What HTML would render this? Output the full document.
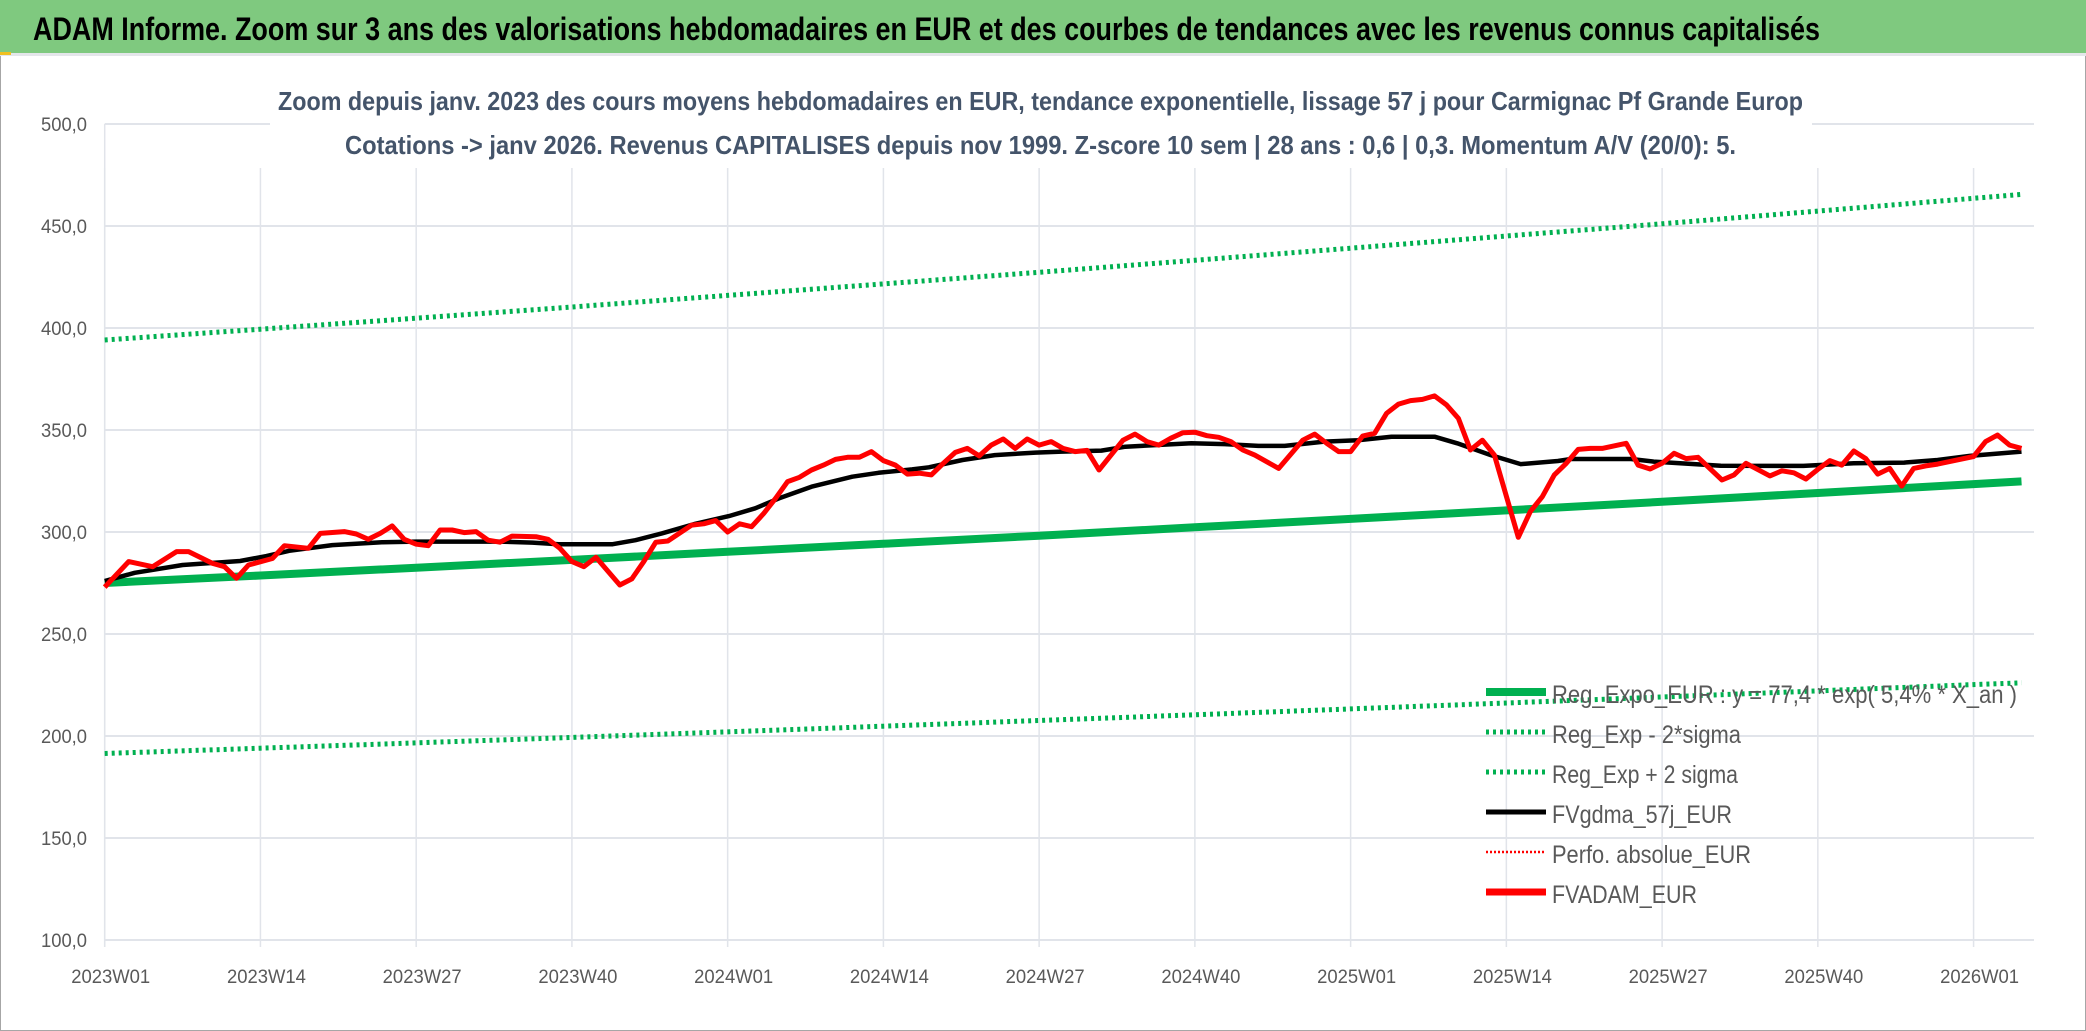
<!DOCTYPE html>
<html><head><meta charset="utf-8"><style>
html,body{margin:0;padding:0;background:#fff;}
svg{display:block;}
</style></head><body>
<svg id="chart" width="2086" height="1031" viewBox="0 0 2086 1031" xmlns="http://www.w3.org/2000/svg">
<rect x="0" y="0" width="2086" height="1031" fill="#fff"/>
<rect x="0.5" y="0.5" width="2085" height="1030" fill="none" stroke="#a6a6a6"/>
<rect x="0" y="0" width="2086" height="53" fill="#7fc97f"/>
<rect x="0" y="53" width="2086" height="3" fill="#e4e6ea"/>
<rect x="0" y="52" width="11" height="3" fill="#f0c020"/>
<text x="33" y="40" font-family="'Liberation Sans Narrow','Liberation Sans',sans-serif" font-weight="bold" font-size="32" fill="#000" textLength="1787" lengthAdjust="spacingAndGlyphs">ADAM Informe. Zoom sur 3 ans des valorisations hebdomadaires en EUR et des courbes de tendances avec les revenus connus capitalisés</text>
<g id="grid"></g>
<rect x="270" y="57" width="1542" height="111" fill="#fff"/>
<text x="278" y="110" font-family="'Liberation Sans Narrow','Liberation Sans',sans-serif" font-weight="bold" font-size="26" fill="#44546a" textLength="1525" lengthAdjust="spacingAndGlyphs">Zoom depuis janv. 2023 des cours moyens hebdomadaires en EUR, tendance exponentielle, lissage 57 j pour Carmignac Pf Grande Europ</text>
<text x="345" y="154" font-family="'Liberation Sans Narrow','Liberation Sans',sans-serif" font-weight="bold" font-size="26" fill="#44546a" textLength="1391" lengthAdjust="spacingAndGlyphs">Cotations -&gt; janv 2026. Revenus CAPITALISES depuis nov 1999. Z-score 10 sem | 28 ans : 0,6 | 0,3. Momentum A/V (20/0): 5.</text>
<g id="axes"></g>
<g id="series"></g>
<g id="legend"></g>
</svg>
<script>
const yTicks = [100,150,200,250,300,350,400,450,500];
const yTickLabels = ["100,0","150,0","200,0","250,0","300,0","350,0","400,0","450,0","500,0"];
const xTickWeeks = [0,13,26,39,52,65,78,91,104,117,130,143,156];
const xTickLabels = ["2023W01","2023W14","2023W27","2023W40","2024W01","2024W14","2024W27","2024W40","2025W01","2025W14","2025W27","2025W40","2026W01"];
const regWeeks = [0,13,26,39,52,65,78,91,104,117,130,143,156,160];
const regValues = [275.0,278.7,282.5,286.3,290.3,294.2,298.2,302.3,306.4,310.6,314.8,319.1,323.5,324.8];
const upperValues = [394.1,399.4,404.8,410.3,416.0,421.6,427.3,433.2,439.1,445.1,451.1,457.3,463.6,465.5];
const lowerValues = [191.4,194.0,196.6,199.3,202.0,204.8,207.6,210.4,213.3,216.2,219.1,222.1,225.2,226.1];
const maWeeks = [0,2.5,6.5,11.3,13.5,15.4,19,23.2,26,33,35.7,37.9,42.4,44.3,46.5,49.3,52.1,54.3,56.3,59,62.4,64.6,67.4,68.8,71.6,74.3,77.7,79.9,83.2,85.2,90.7,93.5,96.3,98.5,101.8,104.6,107.4,111,112.9,115.7,118.2,121.3,122.4,127.4,129.3,134.9,141.8,146,150.2,153,155.7,160];
const maValues = [276,280,283.8,285.8,288.2,290.8,293.6,295,295.3,295.3,294.8,294,294,296,299.3,304,307.8,311.6,316.5,322.2,327.1,329,330.7,331.7,335.3,337.7,338.9,339.4,339.9,341.8,343.5,343.1,342.2,342.2,344.3,345,346.7,346.7,343.5,337.7,333.3,334.8,335.8,335.8,334.5,332.5,332.4,333.7,334,335.3,337.3,339.4];
const redWeeks = [0,2,4,6,7,9,10,11,12,14,15,17,18,20,21,22,23,24,25,26,27,28,29,30,31,32,33,34,36,37,38,39,40,41,43,44,45,46,47,49,50,51,52,53,54,55,56,57,58,59,60,61,62,63,64,65,66,67,68,69,70,71,72,73,74,75,76,77,78,79,80,81,82,83,85,86,87,88,89,90,91,92,93,94,95,96,98,100,101,102,103,104,105,106,107,108,109,110,111,112,113,114,115,116,118,119,120,121,122,123,124,125,127,128,129,130,131,132,133,135,136,137,139,140,141,142,143,144,145,146,147,148,149,150,151,152,153,154,156,157,158,159,160];
const redValues = [273,285.5,283,290.4,290.4,284.6,283,277.3,283.8,287,293.3,292,299.3,300.2,299,296.4,299.3,303,296.4,294,293.3,301,301,299.7,300.2,296,295,298,297.7,296.4,292,285.5,283,287.6,274,277,285.5,295,295.6,303.4,304,305.6,300,304,302.6,309,316.5,324.7,326.8,330.4,332.8,335.6,336.6,336.6,339.4,335,332.8,328.4,328.8,328,333.7,339,341,337.3,342.6,345.6,341,345.6,342.6,344.3,341,339.4,340,330.4,345,348,344.3,342.6,346,348.7,348.9,347.2,346.4,344.3,340.2,337.7,331.2,345,348,343.5,339.4,339.4,347,348.4,358.2,362.7,364.4,365,366.7,362.3,355.7,340.2,345,337.7,297.4,310,317.3,328,333.7,340.5,341,341,343.5,332.8,330.9,333.7,338.6,336,336.6,325.5,328,333.7,327.5,330,329,326,330.7,335,332.8,339.7,336,328.4,331.2,322.5,331.2,332.4,333.3,334.5,337,344.3,347.5,342.6,341];

const NS = "http://www.w3.org/2000/svg";
const X0 = 104.7, WK = 11.98, Y100 = 940, PXU = 102/50;
const xs = w => X0 + w*WK;
const ys = v => Y100 - (v-100)*PXU;
const PL = 104.7, PR = 2034;
function mk(tag, attrs, parent){ const e=document.createElementNS(NS,tag); for(const k in attrs) e.setAttribute(k,attrs[k]); parent.appendChild(e); return e; }
const grid = document.getElementById('grid');
const axes = document.getElementById('axes');
const series = document.getElementById('series');
const legend = document.getElementById('legend');
const FONT = "'Liberation Sans Narrow','Liberation Sans',sans-serif";

yTicks.forEach((v,i)=>{
  const l = mk('line',{x1:PL,x2:PR,y1:ys(v),y2:ys(v),stroke:'#e1e4ea','stroke-width':2},grid);
  
  
  const t = mk('text',{x:87,y:ys(v)+7,'text-anchor':'end','font-family':FONT,'font-size':19,fill:'#595959',textLength:46,lengthAdjust:'spacingAndGlyphs'},axes);
  t.textContent = yTickLabels[i];
  
  
});
xTickWeeks.forEach((w,i)=>{
  const l = mk('line',{x1:xs(w),x2:xs(w),y1:168,y2:ys(100)+7,stroke:'#e1e4ea','stroke-width':1.5},grid);
  
  
  const t = mk('text',{x:xs(w)+6,y:983,'text-anchor':'middle','font-family':FONT,'font-size':19,fill:'#595959',textLength:79,lengthAdjust:'spacingAndGlyphs'},axes);
  t.textContent = xTickLabels[i];
  
  
});
{ const l = mk('line',{x1:PL,x2:PL,y1:124,y2:ys(100)+7,stroke:'#e1e4ea','stroke-width':1.5},grid);
  
   }

function path(wk, vals, style){
  const d = wk.map((w,i)=>(i?'L':'M')+xs(w).toFixed(1)+','+ys(vals[i]).toFixed(1)).join(' ');
  return mk('path',Object.assign({d:d,fill:'none','stroke-linejoin':'round'},style),series);
}
const pu = path(regWeeks, upperValues, {stroke:'#00b050','stroke-width':5,'stroke-dasharray':'3 4'});


const pl = path(regWeeks, lowerValues, {stroke:'#00b050','stroke-width':5,'stroke-dasharray':'3 4'});


const pr = path(regWeeks, regValues, {stroke:'#00b050','stroke-width':8});


const pm = path(maWeeks, maValues, {stroke:'#000','stroke-width':4.5});


const pd = path(redWeeks, redValues, {stroke:'#ff0000','stroke-width':5});



const legNames = ["Reg_Expo_EUR : y = 77,4 * exp( 5,4% * X_an )","Reg_Exp - 2*sigma","Reg_Exp + 2 sigma","FVgdma_57j_EUR","Perfo. absolue_EUR","FVADAM_EUR"];
const legLens = [465,189,186,180,199,145];
const legStyles = [
  {stroke:'#00b050','stroke-width':8},
  {stroke:'#00b050','stroke-width':5,'stroke-dasharray':'3 4'},
  {stroke:'#00b050','stroke-width':5,'stroke-dasharray':'3 4'},
  {stroke:'#000','stroke-width':5},
  {stroke:'#ff0000','stroke-width':2.5,'stroke-dasharray':'2 2'},
  {stroke:'#ff0000','stroke-width':7}
];
legNames.forEach((n,i)=>{
  const y = 695 + i*40;
  const g = mk('g',{},legend);
  
  
  mk('line',Object.assign({x1:1486,x2:1546,y1:y-3,y2:y-3},legStyles[i]),g);
  const t = mk('text',{x:1552,y:y+8,'font-family':FONT,'font-size':25,fill:'#595959',textLength:legLens[i],lengthAdjust:'spacingAndGlyphs'},g);
  t.textContent = n;
});
</script>
</body></html>
